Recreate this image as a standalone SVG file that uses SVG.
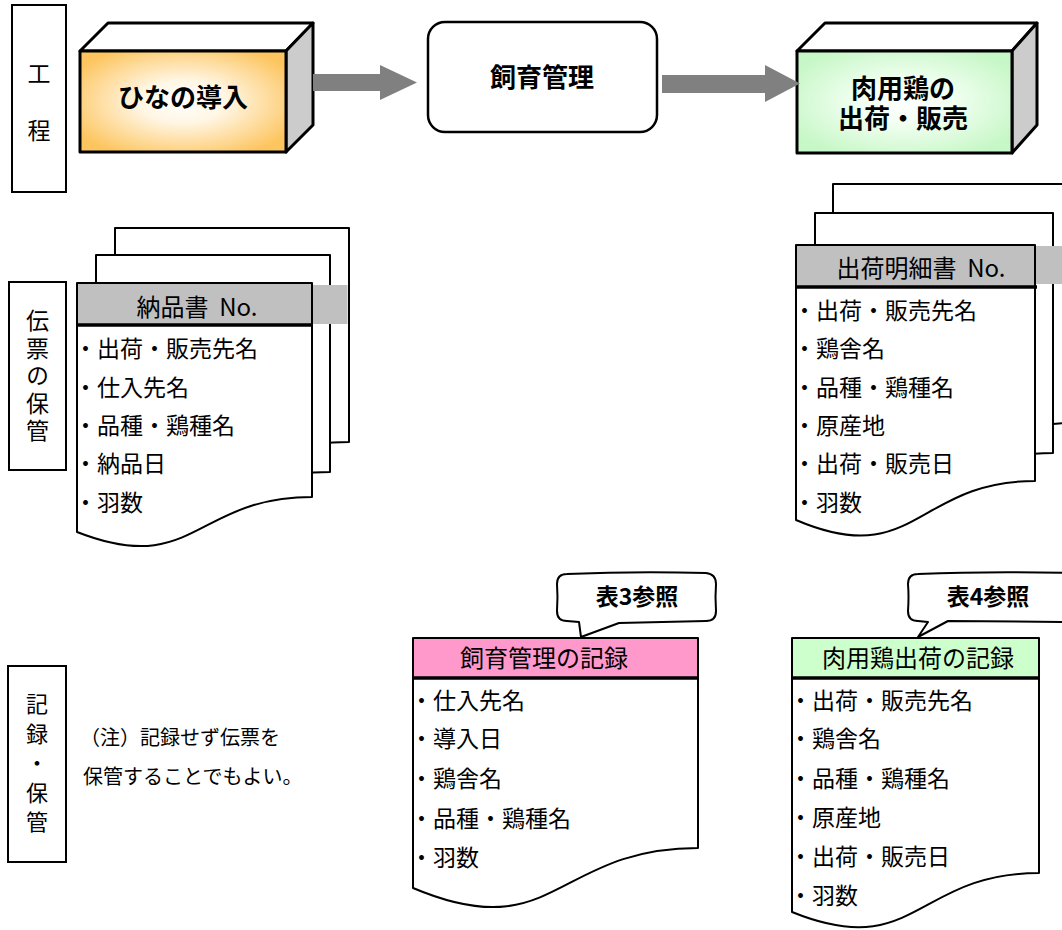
<svg xmlns="http://www.w3.org/2000/svg" width="1062" height="930" viewBox="0 0 1062 930">
<defs>
<radialGradient id="gOrange" cx="50%" cy="50%" r="60%">
<stop offset="0" stop-color="#ffffff"/>
<stop offset="0.35" stop-color="#fff6e4"/>
<stop offset="1" stop-color="#fdc55f"/>
</radialGradient>
<radialGradient id="gGreen" cx="50%" cy="50%" r="60%">
<stop offset="0" stop-color="#ffffff"/>
<stop offset="0.35" stop-color="#f2fff2"/>
<stop offset="1" stop-color="#c6f7c6"/>
</radialGradient>
<style>
.t{font-family:"Noto Sans CJK JP","Noto Sans",sans-serif;fill:#000}
.lbl{font-size:23px;text-anchor:middle}
.vert{writing-mode:vertical-rl;text-anchor:start}
.item{font-size:23px}
.hdr{font-size:24px;text-anchor:middle}
.box{font-size:26px;text-anchor:middle;font-weight:bold}
.note{font-size:20px}
.call{font-size:23px;text-anchor:middle;font-weight:bold}
.ln{fill:none;stroke:#000;stroke-width:2}
.sheet{fill:#fff;stroke:#000;stroke-width:2;stroke-linejoin:round}
.hline{stroke:#000;stroke-width:3.5}
.face{stroke:#000;stroke-width:3;stroke-linejoin:round}
.arrow{fill:#808080}
</style>
</defs>
<rect width="1062" height="930" fill="#fff"/>

<g id="label-process">
<rect class="ln" x="12" y="5" width="54" height="187"/>
<text class="t lbl" x="39" y="82">工</text>
<text class="t lbl" x="39" y="139">程</text>
</g>

<g id="label-slips">
<rect class="ln" x="9" y="282" width="57" height="188"/>
<text class="t lbl vert" x="37.5" y="309" style="letter-spacing:4.5px">伝票の保管</text>
</g>

<g id="label-records">
<rect class="ln" x="8" y="666" width="58" height="196"/>
<text class="t lbl vert" x="37" y="693" style="font-size:22px;letter-spacing:7.5px">記録・保管</text>
</g>

<g id="node-chick-intro">
<polygon class="face" points="80,51 108,23 313,23 286,51" fill="#ffffff"/>
<polygon class="face" points="286,51 313,23 313,125 286,152" fill="#cccccc"/>
<rect class="face" x="80" y="51" width="206" height="101" fill="url(#gOrange)"/>
<text class="t box" x="183" y="107">ひなの導入</text>
</g>

<g id="node-rearing">
<rect x="428" y="22" width="229" height="110" rx="17" fill="#fff" stroke="#000" stroke-width="2.5"/>
<text class="t box" x="542" y="87">飼育管理</text>
</g>

<g id="node-shipping">
<polygon class="face" points="797,51 825,23 1037,23 1012,51" fill="#ffffff"/>
<polygon class="face" points="1012,51 1037,23 1037,125 1012,153" fill="#cccccc"/>
<rect class="face" x="797" y="51" width="215" height="102" fill="url(#gGreen)"/>
<text class="t box"><tspan x="903" y="98">肉用鶏の</tspan><tspan x="903" y="128">出荷・販売</tspan></text>
</g>

<g id="connectors">
<polygon class="arrow" points="313,74 380,74 380,65 417,82.5 380,100 380,91 313,91"/>
<polygon class="arrow" points="662,75 765,75 765,65 800,83.5 765,102 765,93 662,93"/>
</g>

<g id="doc-delivery-slip">
<path class="sheet" d="M115,228 H349 V442 C232,442 232,524 115,477 Z"/>
<path class="sheet" d="M96,255 H330 V472 C213,472 213,555 96,508 Z"/>
<rect x="312" y="285" width="35.5" height="39" fill="#c0c0c0"/>
<path class="sheet" d="M77,283 H312 V497 C194.5,497 194.5,578 77,532 Z"/>
<rect x="78" y="284" width="233" height="40" fill="#c0c0c0"/>
<line class="hline" x1="77" y1="325" x2="313" y2="325"/>
<text class="t hdr" x="197" y="316" xml:space="preserve">納品書  No.</text>
<text class="t item" x="74" y="357">・出荷・販売先名</text>
<text class="t item" x="74" y="396">・仕入先名</text>
<text class="t item" x="74" y="434">・品種・鶏種名</text>
<text class="t item" x="74" y="472">・納品日</text>
<text class="t item" x="74" y="511">・羽数</text>
</g>

<g id="doc-shipping-statement">
<path class="sheet" d="M833,184 H1072 V423 C952.5,423 952.5,514 833,462 Z"/>
<path class="sheet" d="M815,213 H1053 V453 C934,453 934,544 815,492 Z"/>
<rect x="1035" y="246" width="30" height="38" fill="#c0c0c0"/>
<path class="sheet" d="M796,245 H1035 V481 C915.5,481 915.5,571 796,520 Z"/>
<rect x="797" y="246" width="237" height="40" fill="#c0c0c0"/>
<line class="hline" x1="796" y1="287" x2="1037" y2="287"/>
<text class="t hdr" x="921" y="277" xml:space="preserve">出荷明細書  No.</text>
<text class="t item" x="793" y="319">・出荷・販売先名</text>
<text class="t item" x="793" y="357">・鶏舎名</text>
<text class="t item" x="793" y="396">・品種・鶏種名</text>
<text class="t item" x="793" y="434">・原産地</text>
<text class="t item" x="793" y="472">・出荷・販売日</text>
<text class="t item" x="793" y="511">・羽数</text>
</g>

<g id="note">
<text class="t note" x="80" y="745">（注）記録せず伝票を</text>
<text class="t note" x="83" y="784">保管することでもよい。</text>
</g>

<g id="callout-table3">
<path class="sheet" d="M567,574 Q636,571 706,573 Q716,574 716,584 Q715,597 716,611 Q716,621 706,621 L619,623 L581,637 L579,622 L567,621 Q557,621 557,611 Q558,597 557,584 Q557,574 567,574 Z"/>
<text class="t call" x="637" y="605">表3参照</text>
</g>

<g id="doc-rearing-record">
<path class="sheet" d="M413,638 H698 V848 C555,848 555,948 413,888 Z"/>
<rect x="414" y="639" width="283" height="39" fill="#ff99cc"/>
<line class="hline" x1="413" y1="678" x2="699" y2="678"/>
<text class="t hdr" x="544" y="667">飼育管理の記録</text>
<text class="t item" x="410" y="709">・仕入先名</text>
<text class="t item" x="410" y="747">・導入日</text>
<text class="t item" x="410" y="787">・鶏舎名</text>
<text class="t item" x="410" y="827">・品種・鶏種名</text>
<text class="t item" x="410" y="866">・羽数</text>
</g>

<g id="callout-table4">
<path class="sheet" d="M918,574 Q990,571 1070,573 L1070,622 L948,621 L918,637 L928,622 L918,621 Q908,621 908,611 Q909,597 908,584 Q908,574 918,574 Z"/>
<text class="t call" x="988" y="605">表4参照</text>
</g>

<g id="doc-shipping-record">
<path class="sheet" d="M792,638 H1039 V873 C915.5,873 915.5,962 792,912 Z"/>
<rect x="793" y="639" width="245" height="39" fill="#ccffcc"/>
<line class="hline" x1="792" y1="678" x2="1040" y2="678"/>
<text class="t hdr" x="918" y="667">肉用鶏出荷の記録</text>
<text class="t item" x="789" y="709">・出荷・販売先名</text>
<text class="t item" x="789" y="747">・鶏舎名</text>
<text class="t item" x="789" y="787">・品種・鶏種名</text>
<text class="t item" x="789" y="826">・原産地</text>
<text class="t item" x="789" y="865">・出荷・販売日</text>
<text class="t item" x="789" y="904">・羽数</text>
</g>
</svg>
